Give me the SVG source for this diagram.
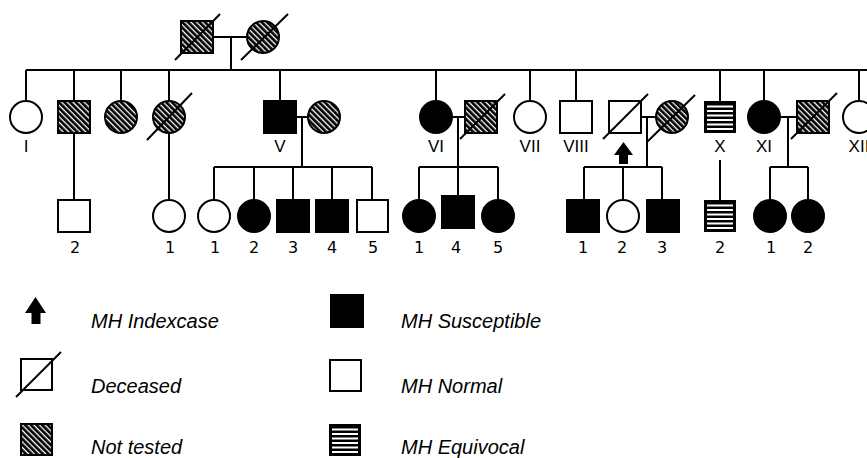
<svg xmlns="http://www.w3.org/2000/svg" xmlns:xlink="http://www.w3.org/1999/xlink" width="867" height="458" viewBox="0 0 867 458">
<style>
.ln{stroke:#000;stroke-width:2;fill:none}
.o{fill:#fff;stroke:#000;stroke-width:2}
.f{fill:#000;stroke:#000;stroke-width:2}
.h{fill:url(#hatch);stroke:#000;stroke-width:2}
.rn{font-family:"Liberation Sans",Arial,sans-serif;font-size:17px;text-anchor:middle;fill:#000}
.nm{font-family:"DejaVu Sans",sans-serif;font-size:16px;text-anchor:middle;fill:#000}
.lg{font-family:"Liberation Sans",Arial,sans-serif;font-size:20px;font-style:italic;fill:#000}
</style>
<defs>
<pattern id="hatch" patternUnits="userSpaceOnUse" width="4" height="4" patternTransform="rotate(45)">
<rect width="4" height="4" fill="#000"/>
<rect y="0" width="4" height="1.3" fill="#fff"/>
</pattern>
<g id="eqv">
<rect x="0" y="0" width="32" height="32" fill="#000"/>
<rect x="3" y="4.5" width="26" height="2" fill="#fff"/>
<rect x="3" y="9" width="26" height="2" fill="#fff"/>
<rect x="3" y="13.5" width="26" height="2" fill="#fff"/>
<rect x="3" y="18" width="26" height="2" fill="#fff"/>
<rect x="3" y="22.5" width="26" height="2" fill="#fff"/>
<rect x="3" y="27" width="26" height="2" fill="#fff"/>
</g>
</defs>
<rect width="867" height="458" fill="#fff"/>

<g id="connectors" class="ln">
<line x1="213" y1="37" x2="247" y2="37"/>
<line x1="231" y1="37" x2="231" y2="70"/>
<line x1="26" y1="70" x2="867" y2="70"/>
<line x1="26" y1="70" x2="26" y2="101"/>
<line x1="74" y1="70" x2="74" y2="101"/>
<line x1="121" y1="70" x2="121" y2="101"/>
<line x1="169" y1="70" x2="169" y2="101"/>
<line x1="280" y1="70" x2="280" y2="101"/>
<line x1="436" y1="70" x2="436" y2="101"/>
<line x1="530" y1="70" x2="530" y2="101"/>
<line x1="576" y1="70" x2="576" y2="101"/>
<line x1="720" y1="70" x2="720" y2="101"/>
<line x1="764" y1="70" x2="764" y2="101"/>
<line x1="859" y1="70" x2="859" y2="101"/>
<line x1="74" y1="133" x2="74" y2="200"/>
<line x1="169" y1="133" x2="169" y2="200"/>
<line x1="720" y1="160" x2="720" y2="200"/>
<line x1="296" y1="117" x2="308" y2="117"/>
<line x1="302" y1="117" x2="302" y2="167"/>
<line x1="214" y1="167" x2="372" y2="167"/>
<line x1="214" y1="167" x2="214" y2="200"/>
<line x1="254" y1="167" x2="254" y2="200"/>
<line x1="293" y1="167" x2="293" y2="200"/>
<line x1="332" y1="167" x2="332" y2="200"/>
<line x1="372" y1="167" x2="372" y2="200"/>
<line x1="452" y1="117" x2="465" y2="117"/>
<line x1="458" y1="117" x2="458" y2="167"/>
<line x1="419" y1="167" x2="498" y2="167"/>
<line x1="419" y1="167" x2="419" y2="200"/>
<line x1="458" y1="167" x2="458" y2="196"/>
<line x1="498" y1="167" x2="498" y2="200"/>
<line x1="641" y1="117" x2="656" y2="117"/>
<line x1="647" y1="117" x2="647" y2="167"/>
<line x1="584" y1="167" x2="662" y2="167"/>
<line x1="584" y1="167" x2="584" y2="200"/>
<line x1="623" y1="167" x2="623" y2="200"/>
<line x1="662" y1="167" x2="662" y2="200"/>
<line x1="780" y1="117" x2="797" y2="117"/>
<line x1="788" y1="117" x2="788" y2="167"/>
<line x1="770" y1="167" x2="808" y2="167"/>
<line x1="770" y1="167" x2="770" y2="200"/>
<line x1="808" y1="167" x2="808" y2="200"/>
</g>

<g id="gen1-father"><rect class="h" x="181" y="21" width="32" height="32"/><line class="ln" x1="175" y1="60" x2="220" y2="14"/></g>
<g id="gen1-mother"><circle class="h" cx="263" cy="37" r="16"/><line class="ln" x1="241" y1="60" x2="288" y2="14"/></g>

<g id="I"><circle class="o" cx="26" cy="117" r="16"/><text class="rn" x="26" y="152">I</text></g>
<g id="II"><rect class="h" x="58" y="101" width="32" height="32"/></g>
<g id="III"><circle class="h" cx="121" cy="117" r="16"/></g>
<g id="IV"><circle class="h" cx="169" cy="117" r="16"/><line class="ln" x1="147" y1="140" x2="192" y2="93"/></g>
<g id="V"><rect class="f" x="264" y="101" width="32" height="32"/><text class="rn" x="280" y="152">V</text></g>
<g id="V-spouse"><circle class="h" cx="324" cy="117" r="16"/></g>
<g id="VI"><circle class="f" cx="436" cy="117" r="16"/><text class="rn" x="436" y="152">VI</text></g>
<g id="VI-spouse"><rect class="h" x="465" y="101" width="32" height="32"/><line class="ln" x1="460" y1="139" x2="505" y2="94"/></g>
<g id="VII"><circle class="o" cx="530" cy="117" r="16"/><text class="rn" x="530" y="152">VII</text></g>
<g id="VIII"><rect class="o" x="560" y="101" width="32" height="32"/><text class="rn" x="576" y="152">VIII</text></g>
<g id="IX"><rect class="o" x="609" y="101" width="32" height="32"/><line class="ln" x1="603" y1="139" x2="648" y2="94"/>
<polygon points="623.5,142 633,155 628,155 628,164 619,164 619,155 614,155" fill="#000"/></g>
<g id="IX-spouse"><circle class="h" cx="672" cy="117" r="16"/><line class="ln" x1="647" y1="142" x2="695" y2="95"/></g>
<g id="X"><use xlink:href="#eqv" href="#eqv" x="704" y="101"/><text class="rn" x="720" y="152">X</text></g>
<g id="XI"><circle class="f" cx="764" cy="117" r="16"/><text class="rn" x="764" y="152">XI</text></g>
<g id="XI-spouse"><rect class="h" x="797" y="101" width="32" height="32"/><line class="ln" x1="791" y1="139" x2="837" y2="93"/></g>
<g id="XII"><circle class="o" cx="859" cy="117" r="16"/><text class="rn" x="859" y="152">XII</text></g>

<g id="II-2"><rect class="o" x="58" y="200" width="32" height="32"/><text class="nm" x="75" y="253">2</text></g>
<g id="IV-1"><circle class="o" cx="169" cy="216" r="16"/><text class="nm" x="170" y="253">1</text></g>
<g id="V-1"><circle class="o" cx="214" cy="216" r="16"/><text class="nm" x="215" y="253">1</text></g>
<g id="V-2"><circle class="f" cx="254" cy="216" r="16"/><text class="nm" x="254" y="253">2</text></g>
<g id="V-3"><rect class="f" x="277" y="200" width="32" height="32"/><text class="nm" x="293" y="253">3</text></g>
<g id="V-4"><rect class="f" x="316" y="200" width="32" height="32"/><text class="nm" x="332" y="253">4</text></g>
<g id="V-5"><rect class="o" x="357" y="200" width="31" height="32"/><text class="nm" x="373" y="253">5</text></g>
<g id="VI-1"><circle class="f" cx="419" cy="216" r="16"/><text class="nm" x="419" y="253">1</text></g>
<g id="VI-4"><rect class="f" x="442" y="196" width="32" height="32"/><text class="nm" x="456" y="253">4</text></g>
<g id="VI-5"><circle class="f" cx="498" cy="216" r="16"/><text class="nm" x="498" y="253">5</text></g>
<g id="IX-1"><rect class="f" x="567" y="200" width="32" height="32"/><text class="nm" x="583" y="253">1</text></g>
<g id="IX-2"><circle class="o" cx="623" cy="216" r="16"/><text class="nm" x="622" y="253">2</text></g>
<g id="IX-3"><rect class="f" x="647" y="200" width="32" height="32"/><text class="nm" x="662" y="253">3</text></g>
<g id="X-2"><use xlink:href="#eqv" href="#eqv" x="704" y="200"/><text class="nm" x="720" y="253">2</text></g>
<g id="XI-1"><circle class="f" cx="770" cy="216" r="16"/><text class="nm" x="771" y="253">1</text></g>
<g id="XI-2"><circle class="f" cx="808" cy="216" r="16"/><text class="nm" x="808" y="253">2</text></g>

<g id="legend">
<polygon points="35.5,297 46,313 40.5,313 40.5,324 31.5,324 31.5,313 25,313" fill="#000"/>
<text class="lg" x="91" y="328">MH Indexcase</text>
<rect class="o" x="21" y="359" width="31" height="31"/><line class="ln" x1="16" y1="397" x2="61" y2="352"/>
<text class="lg" x="91" y="393">Deceased</text>
<rect class="h" x="21" y="424" width="31" height="31"/>
<text class="lg" x="91" y="454">Not tested</text>
<rect class="f" x="331" y="295" width="32" height="32"/>
<text class="lg" x="401" y="328">MH Susceptible</text>
<rect class="o" x="330" y="360" width="31" height="31"/>
<text class="lg" x="401" y="393">MH Normal</text>
<use xlink:href="#eqv" href="#eqv" x="329" y="424"/>
<text class="lg" x="401" y="454">MH Equivocal</text>
</g>
</svg>
